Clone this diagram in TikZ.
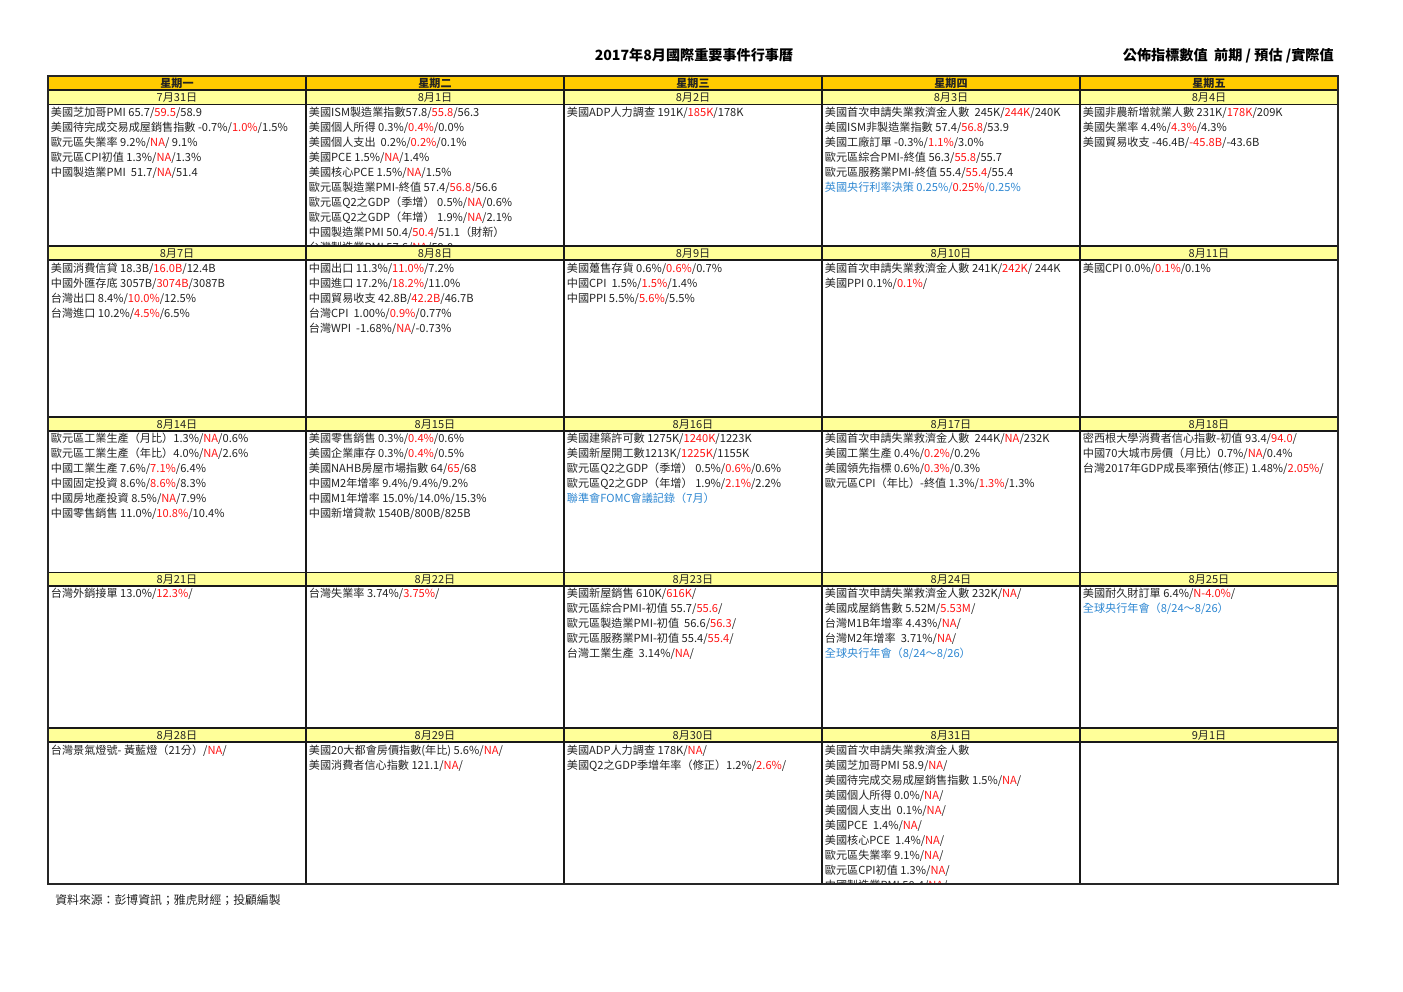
\documentclass[tikz,border=0pt]{standalone}
\usepackage{fontspec}
\setmainfont{Noto Sans CJK TC}
\definecolor{hdrgold}{RGB}{255,204,0}
\definecolor{dateyel}{RGB}{255,255,153}
\definecolor{txtgray}{RGB}{35,35,35}
\definecolor{evblue}{RGB}{45,135,210}
\definecolor{evred}{RGB}{255,20,20}
\newcommand\redt[1]{\textcolor{evred}{#1}}
\newcommand\bluet[1]{\textcolor{evblue}{#1}}
\tikzset{
  txt/.style={anchor=base west, inner sep=0pt, text=txtgray, font=\fontsize{8.35pt}{10pt}\selectfont},
  datetxt/.style={anchor=base, inner sep=0pt, text=txtgray, font=\fontsize{8.3pt}{10pt}\selectfont},
  daytxt/.style={anchor=base, inner sep=0pt, text=txtgray, font=\bfseries\fontsize{8.3pt}{10pt}\selectfont},
  gridline/.style={draw=black!90, line width=1.1pt},
  outerline/.style={draw=black!85, line width=1.6pt},
}
% #1 id, #2 left x, #3 top y, #4 bottom y, #5 first baseline, #6 lines
\newcommand\cellblock[6]{%
  \begin{scope}
    \clip (#2,#3) rectangle (#2+258,#4);
    \foreach \t [count=\i] in {#6} {
      \node[txt, name=#1-\i] at (#2+2.6, #5+15*\i-15) {\t};
    }
  \end{scope}}
% #1 id, #2 left x, #3 center y, #4 text
\newcommand\datecell[4]{\node[datetxt, name=#1] at (#2+129, #3+4) {#4};}
\begin{document}
\begin{tikzpicture}[x=0.75pt, y=-0.75pt]
\useasboundingbox (0,0) rectangle (1403,992);
\fill[white] (0,0) rectangle (1403,992);

% titles
\node[anchor=base, inner sep=0pt, text=black, font=\bfseries\fontsize{10.6pt}{12pt}\selectfont, name=title] at (694,60.4) {2017年8月國際重要事件行事曆};
\node[anchor=base east, inner sep=0pt, text=black, font=\bfseries\fontsize{10.6pt}{12pt}\selectfont, name=legend] at (1334,60.4) {公佈指標數值 \ 前期 / 預估 /實際值};

% backgrounds
\fill[hdrgold] (48,76) rectangle (1338,90);
\foreach \a/\b in {90/104.5, 246/260, 417/431, 572.5/586, 728/742}
  {\fill[dateyel] (48,\a) rectangle (1338,\b);}

% grid
\foreach \yy in {90,104.5,246,260,417,431,572.5,586,728,742}
  {\draw[gridline] (48,\yy) -- (1338,\yy);}
\foreach \xx in {306,564,822,1080}
  {\draw[gridline] (\xx,76) -- (\xx,884);}
\draw[outerline] (48,76) rectangle (1338,884);

% day headers
\foreach \d [count=\k] in {星期一,星期二,星期三,星期四,星期五}
  {\node[daytxt, name=day\k] at (48+258*\k-129, 87.2) {\d};}

% dates
\foreach \d [count=\k] in {7月31日,8月1日,8月2日,8月3日,8月4日} {\datecell{da\k}{48+258*\k-258}{97.3}{\d}}
\foreach \d [count=\k] in {8月7日,8月8日,8月9日,8月10日,8月11日} {\datecell{db\k}{48+258*\k-258}{253}{\d}}
\foreach \d [count=\k] in {8月14日,8月15日,8月16日,8月17日,8月18日} {\datecell{dc\k}{48+258*\k-258}{424}{\d}}
\foreach \d [count=\k] in {8月21日,8月22日,8月23日,8月24日,8月25日} {\datecell{dd\k}{48+258*\k-258}{579.3}{\d}}
\foreach \d [count=\k] in {8月28日,8月29日,8月30日,8月31日,9月1日} {\datecell{de\k}{48+258*\k-258}{735}{\d}}

% week 1
\cellblock{a1}{48}{104.5}{246}{116}{
 {美國芝加哥PMI 65.7/\redt{59.5}/58.9},
 {美國待完成交易成屋銷售指數 -0.7\%/\redt{1.0\%}/1.5\%},
 {歐元區失業率 9.2\%/\redt{NA}/ 9.1\%},
 {歐元區CPI初值 1.3\%/\redt{NA}/1.3\%},
 {中國製造業PMI \ 51.7/\redt{NA}/51.4}}
\cellblock{a2}{306}{104.5}{245}{116}{
 {美國ISM製造業指數57.8/\redt{55.8}/56.3},
 {美國個人所得 0.3\%/\redt{0.4\%}/0.0\%},
 {美國個人支出 \ 0.2\%/\redt{0.2\%}/0.1\%},
 {美國PCE 1.5\%/\redt{NA}/1.4\%},
 {美國核心PCE 1.5\%/\redt{NA}/1.5\%},
 {歐元區製造業PMI-終值 57.4/\redt{56.8}/56.6},
 {歐元區Q2之GDP（季增） 0.5\%/\redt{NA}/0.6\%},
 {歐元區Q2之GDP（年增） 1.9\%/\redt{NA}/2.1\%},
 {中國製造業PMI 50.4/\redt{50.4}/51.1（財新）},
 {台灣製造業PMI 57.6/\redt{NA}/59.0}}
\cellblock{a3}{564}{104.5}{246}{116}{
 {美國ADP人力調查 191K/\redt{185K}/178K}}
\cellblock{a4}{822}{104.5}{246}{116}{
 {美國首次申請失業救濟金人數 \ 245K/\redt{244K}/240K},
 {美國ISM非製造業指數 57.4/\redt{56.8}/53.9},
 {美國工廠訂單 -0.3\%/\redt{1.1\%}/3.0\%},
 {歐元區綜合PMI-終值 56.3/\redt{55.8}/55.7},
 {歐元區服務業PMI-終值 55.4/\redt{55.4}/55.4},
 {\bluet{英國央行利率決策 0.25\%/}\redt{0.25\%}\bluet{ /0.25\%}}}
\cellblock{a5}{1080}{104.5}{246}{116}{
 {美國非農新增就業人數 231K/\redt{178K}/209K},
 {美國失業率 4.4\%/\redt{4.3\%}/4.3\%},
 {美國貿易收支 -46.4B/\redt{-45.8B}/-43.6B}}

% week 2
\cellblock{b1}{48}{260}{417}{272.5}{
 {美國消費信貸 18.3B/\redt{16.0B}/12.4B},
 {中國外匯存底 3057B/\redt{3074B}/3087B},
 {台灣出口 8.4\%/\redt{10.0\%}/12.5\%},
 {台灣進口 10.2\%/\redt{4.5\%}/6.5\%}}
\cellblock{b2}{306}{260}{417}{272.5}{
 {中國出口 11.3\%/\redt{11.0\%}/7.2\%},
 {中國進口 17.2\%/\redt{18.2\%}/11.0\%},
 {中國貿易收支 42.8B/\redt{42.2B}/46.7B},
 {台灣CPI \ 1.00\%/\redt{0.9\%}/0.77\%},
 {台灣WPI \ -1.68\%/\redt{NA}/-0.73\%}}
\cellblock{b3}{564}{260}{417}{272.5}{
 {美國躉售存貨 0.6\%/\redt{0.6\%}/0.7\%},
 {中國CPI \ 1.5\%/\redt{1.5\%}/1.4\%},
 {中國PPI 5.5\%/\redt{5.6\%}/5.5\%}}
\cellblock{b4}{822}{260}{417}{272.5}{
 {美國首次申請失業救濟金人數 241K/\redt{242K}/ 244K},
 {美國PPI 0.1\%/\redt{0.1\%}/}}
\cellblock{b5}{1080}{260}{417}{272.5}{
 {美國CPI 0.0\%/\redt{0.1\%}/0.1\%}}

% week 3
\cellblock{c1}{48}{431}{572.5}{442.3}{
 {歐元區工業生產（月比）1.3\%/\redt{NA}/0.6\%},
 {歐元區工業生產（年比）4.0\%/\redt{NA}/2.6\%},
 {中國工業生產 7.6\%/\redt{7.1\%}/6.4\%},
 {中國固定投資 8.6\%/\redt{8.6\%}/8.3\%},
 {中國房地產投資 8.5\%/\redt{NA}/7.9\%},
 {中國零售銷售 11.0\%/\redt{10.8\%}/10.4\%}}
\cellblock{c2}{306}{431}{572.5}{442.3}{
 {美國零售銷售 0.3\%/\redt{0.4\%}/0.6\%},
 {美國企業庫存 0.3\%/\redt{0.4\%}/0.5\%},
 {美國NAHB房屋市場指數 64/\redt{65}/68},
 {中國M2年增率 9.4\%/9.4\%/9.2\%},
 {中國M1年增率 15.0\%/14.0\%/15.3\%},
 {中國新增貸款 1540B/800B/825B}}
\cellblock{c3}{564}{431}{572.5}{442.3}{
 {美國建築許可數 1275K/\redt{1240K}/1223K},
 {美國新屋開工數1213K/\redt{1225K}/1155K},
 {歐元區Q2之GDP（季增） 0.5\%/\redt{0.6\%}/0.6\%},
 {歐元區Q2之GDP（年增） 1.9\%/\redt{2.1\%}/2.2\%},
 {\bluet{聯準會FOMC會議記錄（7月）}}}
\cellblock{c4}{822}{431}{572.5}{442.3}{
 {美國首次申請失業救濟金人數 \ 244K/\redt{NA}/232K},
 {美國工業生產 0.4\%/\redt{0.2\%}/0.2\%},
 {美國領先指標 0.6\%/\redt{0.3\%}/0.3\%},
 {歐元區CPI（年比）-終值 1.3\%/\redt{1.3\%}/1.3\%}}
\cellblock{c5}{1080}{431}{572.5}{442.3}{
 {密西根大學消費者信心指數-初值 93.4/\redt{94.0}/},
 {中國70大城市房價（月比）0.7\%/\redt{NA}/0.4\%},
 {台灣2017年GDP成長率預估(修正) 1.48\%/\redt{2.05\%}/}}

% week 4
\cellblock{d1}{48}{586}{728}{597.6}{
 {台灣外銷接單 13.0\%/\redt{12.3\%}/}}
\cellblock{d2}{306}{586}{728}{597.6}{
 {台灣失業率 3.74\%/\redt{3.75\%}/}}
\cellblock{d3}{564}{586}{728}{597.6}{
 {美國新屋銷售 610K/\redt{616K}/},
 {歐元區綜合PMI-初值 55.7/\redt{55.6}/},
 {歐元區製造業PMI-初值 \ 56.6/\redt{56.3}/},
 {歐元區服務業PMI-初值 55.4/\redt{55.4}/},
 {台灣工業生產 \ 3.14\%/\redt{NA}/}}
\cellblock{d4}{822}{586}{728}{597.6}{
 {美國首次申請失業救濟金人數 232K/\redt{NA}/},
 {美國成屋銷售數 5.52M/\redt{5.53M}/},
 {台灣M1B年增率 4.43\%/\redt{NA}/},
 {台灣M2年增率 \ 3.71\%/\redt{NA}/},
 {\bluet{全球央行年會（8/24～8/26）}}}
\cellblock{d5}{1080}{586}{728}{597.6}{
 {美國耐久財訂單 6.4\%/\redt{N-4.0\%}/},
 {\bluet{全球央行年會（8/24～8/26）}}}

% week 5
\cellblock{e1}{48}{742}{884}{754.3}{
 {台灣景氣燈號- 黃藍燈（21分）/\redt{NA}/}}
\cellblock{e2}{306}{742}{884}{754.3}{
 {美國20大都會房價指數(年比) 5.6\%/\redt{NA}/},
 {美國消費者信心指數 121.1/\redt{NA}/}}
\cellblock{e3}{564}{742}{884}{754.3}{
 {美國ADP人力調查 178K/\redt{NA}/},
 {美國Q2之GDP季增年率（修正）1.2\%/\redt{2.6\%}/}}
\cellblock{e4}{822}{742}{884}{754.3}{
 {美國首次申請失業救濟金人數},
 {美國芝加哥PMI 58.9/\redt{NA}/},
 {美國待完成交易成屋銷售指數 1.5\%/\redt{NA}/},
 {美國個人所得 0.0\%/\redt{NA}/},
 {美國個人支出 \ 0.1\%/\redt{NA}/},
 {美國PCE \ 1.4\%/\redt{NA}/},
 {美國核心PCE \ 1.4\%/\redt{NA}/},
 {歐元區失業率 9.1\%/\redt{NA}/},
 {歐元區CPI初值 1.3\%/\redt{NA}/},
 {中國製造業PMI 50.4/\redt{NA}/}}

% redraw grid over clipped text edges
\foreach \xx in {306,564,822,1080}
  {\draw[gridline] (\xx,76) -- (\xx,884);}
\foreach \yy in {246,417,572.5,728}
  {\draw[gridline] (48,\yy) -- (1338,\yy);}
\draw[outerline] (48,76) rectangle (1338,884);

% source
\node[anchor=base west, inner sep=0pt, text=txtgray, font=\fontsize{8.9pt}{10pt}\selectfont, name=source] at (55,904.6) {資料來源：彭博資訊；雅虎財經；投顧編製};
\end{tikzpicture}
\end{document}
